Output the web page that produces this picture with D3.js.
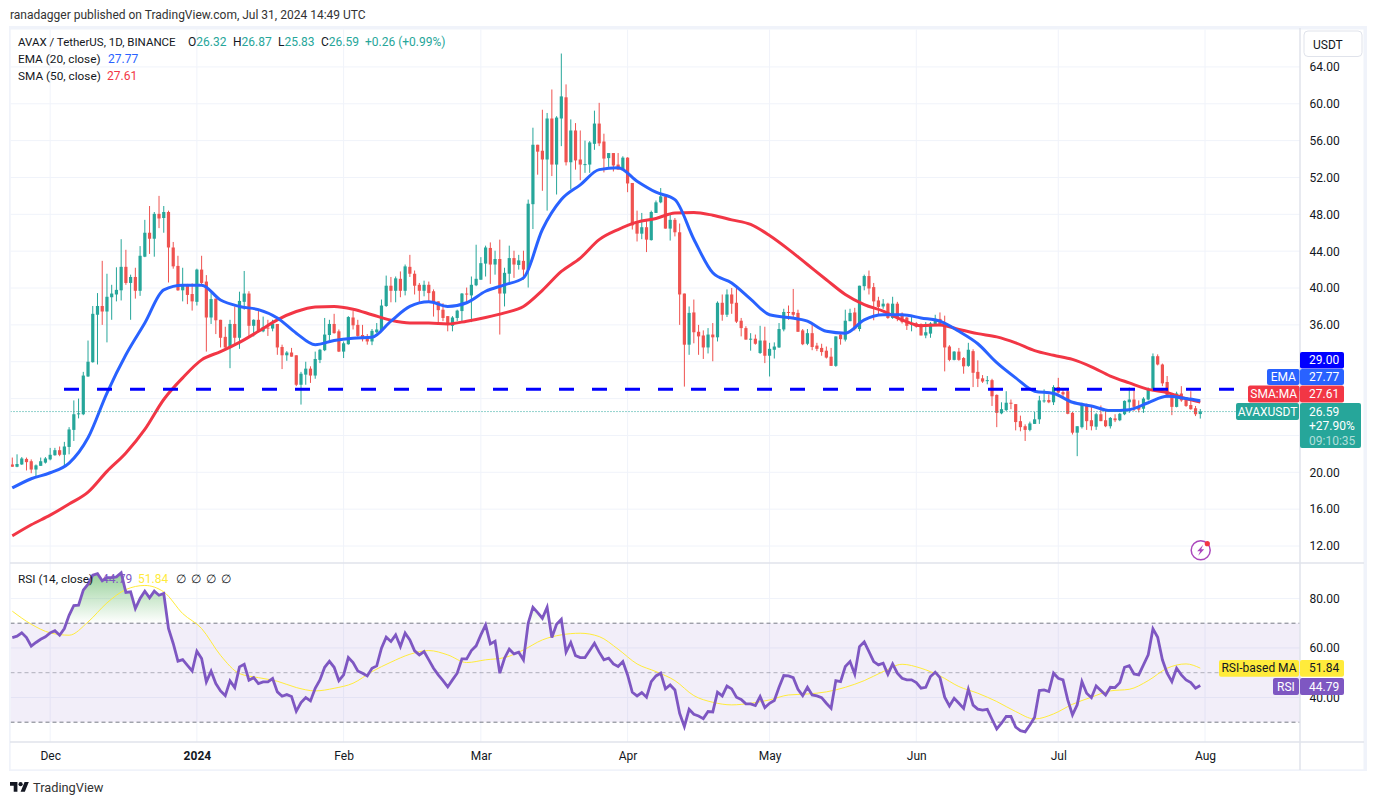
<!DOCTYPE html>
<html>
<head>
<meta charset="utf-8">
<script src="https://cdn.jsdelivr.net/npm/d3@7"></script>
<style>
  html, body { margin: 0; padding: 0; background: #fff; }
  text { font-family: Roboto, "Noto Sans", sans-serif; }
</style>
</head>
<body>
<svg id="chart" width="1376" height="805"></svg>
<script>
// one candle a day, from 2023-11-23 to 2024-07-31
const firstDay = Date.UTC(2023, 10, 23);

const opens = [
  20.85,20.6,20.85,21.45,21.2,20.3,20.7,21.05,21.4,21.85,
  22.4,21.9,22.75,24.6,26.3,26.3,30.4,31.95,37.1,38.05,
  37.45,39,39.3,39.75,42.3,40.55,41.2,39.7,43.4,46,
  45.35,48.05,47.6,48.25,44.4,42.4,39.75,40.3,39.35,38.5,
  42,40.7,36.8,38.85,36.55,34.7,33.55,36.1,34.6,38.5,
  39.4,35.9,36.55,35.3,35.7,35.6,36.1,33.6,32.7,33,
  32.7,29.5,30.6,31.25,30.5,32.2,33.25,34.9,36.1,35.3,
  33.1,33.9,36.8,36,34.9,34.65,34.2,35.2,35.35,38.05,
  40.25,39.7,41,39.7,42.3,41.55,40.35,39.7,40.35,39.65,
  38.55,37.65,36.95,35.9,36.75,37.5,39.4,39.2,40.3,40.9,
  42.65,44.35,42.55,43.15,39.4,41.55,43.25,42.5,42.95,42,
  49.1,55.55,54.9,53.95,58.4,53.4,58.4,60.7,53.65,57.1,
  53.95,53.45,53.4,55.65,57.85,55.9,54.1,54.65,53.4,52.85,
  54.15,51.4,47.25,45.9,46.6,45.2,48.15,49.3,49.95,46.45,
  47.4,46.05,39.4,33.85,37.35,35.25,34.85,33.55,34.95,34.65,
  38.4,37.1,39.3,38.4,36.45,35.65,34.5,34.5,32.95,34.3,
  32.65,33.3,33.55,35.5,37.4,37.4,37.3,35.4,33.95,35.1,
  33.75,33.5,33.2,32.55,31.55,34.95,34.4,36.4,37.35,35.55,
  40.2,41.3,40.1,38.65,38,38.3,36.75,38.3,37.2,36.8,
  36.1,36.15,36.1,34.85,35.05,36.1,36.65,36.15,33.65,32.2,
  33.1,32.4,31.55,33.15,30.9,30.2,29.95,30,28.4,26.4,
  26.75,27.55,27.4,25.55,25,24.6,25.25,25.75,27.75,27.85,
  27.6,29.25,28.7,28.8,26.45,24.3,24.9,27.35,25.65,24.95,
  26.3,25.65,25,25.85,25.65,26.3,27.6,27.9,27.2,26.9,
  27.9,28.9,32.6,31.7,29.8,28.4,27.1,28.55,28,27.3,26.95,26.32
];
const closes = [
  20.6,20.9,21.5,21.1,20.3,20.75,21.2,21.5,21.9,22.4,
  21.9,22.8,24.65,26.3,26.4,30.5,32,37.2,38.05,37.45,
  39.05,39.4,39.8,42.3,40.55,41.2,39.7,43.5,46,45.35,
  48.05,47.55,48.25,44.4,42.35,39.75,40.35,39.25,38.55,42,
  40.55,36.8,38.8,36.5,34.6,33.55,36.1,34.6,38.6,39.4,
  35.9,36.55,35.3,35.75,35.6,36.1,33.55,32.7,33,32.55,
  29.5,30.7,31.25,30.5,32.3,33.3,34.95,36.1,35.1,33.1,
  34,36.85,35.95,34.8,34.45,34.2,35.35,35.5,38.1,40.25,
  39.7,41.05,39.7,42.35,41.55,40.25,39.7,40.35,39.45,38.4,
  37.6,36.75,36,36.8,37.55,39.4,39.3,40.35,41,42.7,
  44.4,42.55,43.15,39.4,41.65,43.25,42.55,43,42,49.15,
  55.55,54.8,53.95,58.4,53.4,58.5,60.8,53.65,57.1,53.85,
  53.4,53.45,55.8,57.85,55.7,54.05,54.65,53.3,52.85,54.15,
  51.35,46.8,45.9,46.6,45.25,48.25,49.3,49.95,46.45,47.4,
  46.05,39.3,33.85,37.3,35.2,34.75,33.55,34.95,34.65,38.4,
  37.1,39.3,38.3,36.35,35.65,34.4,34.5,33.95,34.3,32.65,
  33.4,33.65,35.55,37.4,37.3,37.1,35.25,33.9,35.1,33.6,
  33.4,33.05,32.45,31.55,34.75,34.45,36.45,37.3,35.55,40.25,
  41.3,39.95,38.55,37.95,38.3,36.75,38.3,36.8,36.3,35.9,
  36.15,35.8,34.85,35.2,36.15,36.65,35.9,33.55,32.2,33.1,
  32.2,31.5,33.3,30.8,30.15,29.85,30,28.25,26.45,26.85,
  27.55,27.45,25.45,24.9,24.6,25.3,25.75,27.8,27.8,27.6,
  29.25,28.65,28.45,26.35,24.3,25,27.3,25.55,25,26.3,
  25.55,25,25.9,25.65,26.35,27.75,27.9,27.1,26.8,28,
  29.05,32.6,31.7,29.65,28.15,27.1,28.55,27.8,27.2,26.85,26.3,26.59
];
const highs = [
  21.6,21.95,21.65,21.6,21.4,20.85,21.6,21.65,22.65,22.65,
  22.8,23.3,24.9,27.8,28,30.9,34.3,38.05,39.45,42.95,
  41.55,40.35,42.25,45.3,44.15,41.45,42.2,44.55,47.4,48.9,
  48.25,50,48.9,48.4,45,43.5,42.2,40.45,40.5,42.1,
  43.5,41.4,39.45,38.85,36.55,35.8,36.55,38,39.6,41.85,
  39.65,36.6,37.55,36.9,36.55,36.55,36.1,33.85,33.15,33.5,
  32.7,30.9,32,31.5,33.1,33.4,36.75,36.55,37.2,35.5,
  34.2,36.95,37.5,36.55,36,35,35.55,36.2,38.75,41.35,
  41.2,41.25,41.8,42.55,43.6,41.9,40.55,40.8,40.7,39.85,
  38.55,38.35,36.95,36.95,37.65,39.45,40.05,41.25,44.7,43.35,
  44.6,44.95,44.05,45.25,42.2,44.6,44.05,43.6,44.05,49.6,
  57.4,55.55,59.35,59,61.55,58.65,65.45,62.1,58.3,57.9,
  57.1,56,55.95,59.25,60.1,56.75,54.65,54.65,54.65,54.3,
  54.2,51.4,48.4,48.15,47.4,48.4,49.5,50.85,50.05,48.05,
  47.6,47,39.4,38,38.75,36,35.4,35.65,36.2,38.55,
  39.3,39.85,40,40,36.75,35.85,35.1,34.95,35.9,35.8,
  34.05,34.1,36.2,37.75,38.1,39.9,37.65,35.55,35.55,36.2,
  34.05,33.95,33.65,33.5,34.75,35.05,37.65,37.75,37.85,40.25,
  41.45,41.9,40.55,39.05,38.8,38.4,39.05,38.5,37.35,36.85,
  36.85,36.3,36.15,36.3,36.3,37.1,37.35,37,33.8,33.15,
  33.5,32.5,34.05,33.35,32.15,30.55,30.45,30.15,28.45,27.6,
  28.8,27.9,27.4,26.15,25.2,25.5,26.55,28.3,29,28.45,
  29.45,30.25,29,29,26.55,25,27.55,27.45,27.1,26.45,
  27.25,26.65,26,26.3,26.45,27.8,29.2,29,27.8,28.15,
  29.2,32.9,32.8,31.8,30.45,28.4,28.75,29.35,28.15,28.8,27.2,26.87
];
const lows = [
  20.6,20.55,20.8,20.2,19.9,19.6,20.7,20.95,21.3,21.8,
  21.75,20.7,21.95,23.4,25.85,26.2,30.35,31.9,31.7,36,
  34.1,36.55,38.55,38.65,40.35,36.55,38.85,39.15,43.35,43.7,
  43.4,46.5,46,40.6,42.1,39.7,38.55,38.25,37.55,38.1,
  40.35,33.1,36.1,35,33.55,33.3,31.3,33.8,33.4,37.65,
  34.75,34.75,35.2,35.2,34.8,35.3,32.75,31.2,32.1,32.55,
  29.35,27.35,29.5,29.7,30.15,31.85,33.15,34.3,35.05,33.05,
  32.4,33.85,35.5,34.7,34.2,33.85,33.8,35.1,35.3,37.95,
  38.45,38.45,39,39.2,41.2,39.3,38.4,39.1,38.55,36.9,
  36.2,36.4,35.3,35.3,36.4,36.4,38.35,36.3,40.2,40.9,
  41.25,40.45,41.45,34.95,38,40.55,41.1,42,40.9,40.05,
  46.4,52.3,50.55,48.4,52.15,50.15,55.4,53.3,50.7,52.85,
  51.7,52.5,52.5,55,55.4,52.55,53.15,52.65,52.85,52.85,
  50.4,46.35,45.05,45.3,43.9,45.15,48.15,49.2,46.45,45.15,
  45.6,36,29.3,32.75,34,32.75,32.3,32.9,32.05,34.2,
  36.45,36.85,37.2,36.2,34.75,34.4,33.2,33.85,32.85,31.85,
  30.4,32.35,33.5,35.3,36.55,36.65,35.25,33.8,33.8,33.25,
  33.15,32.65,32.35,31.55,31.45,33.85,34.2,36.4,35.4,35.3,
  39.75,39.3,36.5,37,37.75,36.65,36.65,36.4,36.15,35.45,
  35.3,35.7,34.85,34.55,34.6,35.9,35.85,30.95,32.05,32.15,
  32.1,30.7,31.45,29.25,29.25,29.7,29.55,27.2,24.9,26.3,
  26.65,26.85,24.55,24.45,23.4,24.45,25.25,25.25,27.55,27.5,
  27.3,28.55,28,26.3,24.1,21.75,24.75,24.6,24.55,24.6,
  25.55,24.9,24.75,25.45,25.55,26.2,26.45,26.65,26.5,26.45,
  27.8,28.8,31.6,29.35,28.1,26.2,27.05,27.65,27.1,26.8,26.1,25.83
];

// read every 4th day, plus the last one
const ema20 = [
  18.3,19.3,19.95,21,23.75,28.6,32.75,36.2,39.8,40.3,40.3,38.7,38,37.65,36.75,35.1,
  33.85,34.3,34.55,34.65,36.4,38,38.5,38,38.4,39.65,40.35,41.1,46.35,49.6,51.2,52.85,
  53.05,51.6,50.4,49.6,45.3,41.65,40.55,38.8,37.1,36.8,36.4,35.3,35.1,36.55,37.1,37.1,
  36.75,36.4,35.3,33.95,31.9,30.25,28.8,28.55,27.6,27.2,26.7,26.8,27.55,28.25,28,27.77
];
const sma50 = [
  13.1,14.3,15.35,16.55,17.85,20.1,22.1,24.65,27.9,30.25,32.2,33.1,34.1,35.3,36.55,37.45,
  37.95,38,37.7,37.1,36.5,36.2,36.2,36.1,36.4,36.8,37.3,38,39.75,41.8,43.25,45.25,
  46.35,47.15,47.55,48.15,48.2,47.9,47.4,46.9,45.7,44.2,42.55,40.9,39.3,38.2,37.5,36.55,
  35.9,36,35.5,35.05,34.7,34.05,33.2,32.7,32.25,31.45,30.45,29.7,29,28.65,28,27.61
];
const rsiMa = [
  74.85,69.6,66.1,65.15,70.5,78.2,83.6,85.25,82.65,73.9,67.85,57,49.65,48,46.55,44,
  42.65,43.7,45.75,50.45,54.25,57.45,58.95,57.2,54.1,55.2,56.1,59.2,63.25,65.3,65.95,64.6,
  59.5,53.55,50.45,46.8,40.75,38.05,37,37.65,39,41,41.4,42.25,44.1,46.8,50.45,53.4,
  51.8,48.7,44.4,41.7,38.35,34.3,31.3,33.35,37.25,40.1,42.65,43.3,46.8,51.8,53.55,51.84
];
const rsi14 = [
  64.2,64.75,66.1,64.2,60.7,62.2,63.5,64.5,66.1,67,
  65.15,67.85,73.2,77.15,77.3,83.35,85.75,89.4,90,87.1,
  88.45,88.45,88.7,90.35,82.4,82.65,75.9,80,82.95,80.25,
  82.95,81.3,82,67.85,61.8,54.65,55.3,53,50.7,58.7,
  55.7,46.3,50.6,45.6,42.65,40.75,46.7,44,52.35,53.4,
  47,48,45.6,46.3,46.3,47.65,42.25,40.5,41.15,40.4,
  34.4,37.9,39.95,38.6,43.7,47.1,52.2,54.6,52.2,46.8,
  49.1,56.1,54.1,50.7,49.8,48.7,51.8,52.75,59.9,64.35,
  62.6,65.3,60.6,66,63.25,58.8,57.2,58.55,55.2,51.8,
  49.1,46.8,44.25,47.1,49.8,55.6,55.6,58.95,60.85,65.3,
  69.3,61.65,62.7,49.8,55.85,59.5,57.6,58.3,55.2,70,
  76.45,74.3,72,76.45,64.2,69.6,71.6,58.3,62.2,56.9,
  56.1,56.1,58.95,61.9,58.3,55.2,55.85,53.55,52.5,54.5,
  49.1,42.1,40.6,42,40.1,46.4,48.7,49.8,43.45,45.05,
  43,33.6,28.2,35.2,33.2,32.5,31.45,34.3,34.15,42.1,
  40.6,44.65,43.45,40.1,39.2,37.4,37.4,36.7,40.35,35.9,
  37.65,38.75,44.1,48.85,48.7,48,43.3,40.75,44.1,41,
  40.6,39.9,37.65,35.6,46.8,46.4,52.5,54.5,49.4,60.55,
  62.45,58.55,54.5,53.15,53.85,49.4,53.55,49.8,47.75,47.1,
  47.1,46,43.75,44.1,48.45,50.2,48,40.1,36.6,39.7,
  37.65,35.6,43.3,36.9,35.3,34.9,35.2,31.2,27.3,29.6,
  32.3,32.3,28,26.6,26.1,28.9,32,42.8,43.05,42.4,
  49.8,47.75,47.1,39,32.95,37,46.4,41.7,39.9,44.65,
  42.8,41,44.1,44,46,52.2,52.85,49.5,49.1,53.15,
  57.2,67.7,64.35,55.2,49.8,46.4,51.8,49.1,47.1,46,43.75,44.79
];

const priceTicks = [12, 16, 20, 24, 28, 32, 36, 40, 44, 48, 52, 56, 60, 64];
// 24, 28 and 32 sit behind the price tags, so only their grid lines show
const priceLabels = [12, 16, 20, 36, 40, 44, 48, 52, 56, 60, 64];
const rsiTicks = [40, 60, 80];
const monthTicks = [
  [Date.UTC(2023, 11, 1), 'Dec'], [Date.UTC(2024, 0, 1), '2024'], [Date.UTC(2024, 1, 1), 'Feb'],
  [Date.UTC(2024, 2, 1), 'Mar'], [Date.UTC(2024, 3, 1), 'Apr'], [Date.UTC(2024, 4, 1), 'May'],
  [Date.UTC(2024, 5, 1), 'Jun'], [Date.UTC(2024, 6, 1), 'Jul'], [Date.UTC(2024, 7, 1), 'Aug']
];
const supportLevel = 29;
const lastClose = 26.59;

const DAY = 86400000;
const UP = '#26a69a', DOWN = '#ef5350', BLUE = '#2962ff', RED = '#f23645';
const PURPLE = '#7e57c2', YELLOW = '#ffeb3b', INK = '#131722', GRID = '#f0f3fa', EDGE = '#e0e3eb';

const svg = d3.select('#chart');
const plot = {left: 10.5, right: 1300, top: 29.5, mid: 563, bottom: 742};

const x = d3.scaleUtc()
  .domain([firstDay, Date.UTC(2024, 7, 1)])
  .range([12.3, 1205]);
const y = d3.scaleLinear().domain([12, 64]).range([546, 66.9]);
const yRsi = d3.scaleLinear().domain([30, 70]).range([722.2, 623.2]);

const dayOf = i => firstDay + i * DAY;
// the moving averages were read every 4th day and on the last day
const sampledDay = i => dayOf(Math.min(i * 4, 251));

const defs = svg.append('defs');
defs.append('clipPath').attr('id', 'clip-price').append('rect')
  .attr('x', plot.left).attr('y', plot.top)
  .attr('width', plot.right - plot.left).attr('height', plot.mid - plot.top);
defs.append('clipPath').attr('id', 'clip-rsi').append('rect')
  .attr('x', plot.left).attr('y', plot.mid)
  .attr('width', plot.right - plot.left).attr('height', plot.bottom - plot.mid);
defs.append('clipPath').attr('id', 'clip-over').append('rect')
  .attr('x', plot.left).attr('y', plot.mid)
  .attr('width', plot.right - plot.left).attr('height', yRsi(70) - plot.mid);
const grad = defs.append('linearGradient').attr('id', 'over-fill')
  .attr('gradientUnits', 'userSpaceOnUse')
  .attr('x1', 0).attr('x2', 0).attr('y1', yRsi(91)).attr('y2', yRsi(70));
grad.append('stop').attr('offset', 0).attr('stop-color', '#4caf50').attr('stop-opacity', 0.6);
grad.append('stop').attr('offset', 1).attr('stop-color', '#4caf50').attr('stop-opacity', 0);

// grid
const grid = svg.append('g').attr('stroke', GRID).attr('stroke-width', 1);
grid.selectAll('.v').data(monthTicks).enter().append('line')
  .attr('x1', d => x(d[0])).attr('x2', d => x(d[0]))
  .attr('y1', plot.top).attr('y2', plot.bottom);
grid.selectAll('.h').data(priceTicks).enter().append('line')
  .attr('x1', plot.left).attr('x2', plot.right)
  .attr('y1', d => y(d)).attr('y2', d => y(d));
grid.selectAll('.r').data(rsiTicks).enter().append('line')
  .attr('x1', plot.left).attr('x2', plot.right)
  .attr('y1', d => yRsi(d)).attr('y2', d => yRsi(d));

// rsi pane background and bands
svg.append('rect')
  .attr('x', plot.left).attr('width', plot.right - plot.left)
  .attr('y', yRsi(70)).attr('height', yRsi(30) - yRsi(70))
  .attr('fill', PURPLE).attr('fill-opacity', 0.1);
[[70, '#787b86', 1], [50, '#787b86', 0.55], [30, '#787b86', 1]].forEach(b => {
  svg.append('line')
    .attr('x1', plot.left).attr('x2', plot.right)
    .attr('y1', yRsi(b[0])).attr('y2', yRsi(b[0]))
    .attr('stroke', b[1]).attr('stroke-opacity', b[2])
    .attr('stroke-dasharray', '4 3');
});

// candles
const candles = svg.append('g').attr('clip-path', 'url(#clip-price)')
  .selectAll('g').data(closes).enter().append('g')
  .attr('fill', (d, i) => d >= opens[i] ? UP : DOWN)
  .attr('stroke', (d, i) => d >= opens[i] ? UP : DOWN);
candles.append('line')
  .attr('x1', (d, i) => x(dayOf(i))).attr('x2', (d, i) => x(dayOf(i)))
  .attr('y1', (d, i) => y(highs[i])).attr('y2', (d, i) => y(lows[i]))
  .attr('stroke-width', 1);
candles.append('rect')
  .attr('x', (d, i) => x(dayOf(i)) - 1.6)
  .attr('width', 3.2)
  .attr('y', (d, i) => y(Math.max(d, opens[i])))
  .attr('height', (d, i) => Math.max(1, Math.abs(y(d) - y(opens[i]))))
  .attr('stroke', 'none');

// moving averages
const maLine = scale => d3.line()
  .x((d, i) => x(sampledDay(i)))
  .y(d => scale(d))
  .curve(d3.curveMonotoneX);
const priceLines = svg.append('g').attr('clip-path', 'url(#clip-price)').attr('fill', 'none');
priceLines.append('path').datum(sma50).attr('d', maLine(y))
  .attr('stroke', RED).attr('stroke-width', 3);
priceLines.append('path').datum(ema20).attr('d', maLine(y))
  .attr('stroke', BLUE).attr('stroke-width', 3);

// horizontal level and last price
svg.append('line')
  .attr('x1', 64).attr('x2', plot.right)
  .attr('y1', y(supportLevel)).attr('y2', y(supportLevel))
  .attr('stroke', '#0000ff').attr('stroke-width', 3)
  .attr('stroke-dasharray', '15 18');
svg.append('line')
  .attr('x1', plot.left).attr('x2', plot.right)
  .attr('y1', y(lastClose)).attr('y2', y(lastClose))
  .attr('stroke', UP).attr('stroke-dasharray', '1 2');

// rsi
const rsiPane = svg.append('g').attr('clip-path', 'url(#clip-rsi)');
const overArea = d3.area()
  .x((d, i) => x(dayOf(i)))
  .y0(yRsi(70))
  .y1(d => yRsi(d));
rsiPane.append('path').datum(rsi14).attr('d', overArea)
  .attr('clip-path', 'url(#clip-over)')
  .attr('fill', 'url(#over-fill)');
rsiPane.append('path').datum(rsiMa).attr('d', maLine(yRsi))
  .attr('fill', 'none').attr('stroke', YELLOW).attr('stroke-width', 1);
rsiPane.append('path').datum(rsi14)
  .attr('d', d3.line().x((d, i) => x(dayOf(i))).y(d => yRsi(d)))
  .attr('fill', 'none').attr('stroke', PURPLE).attr('stroke-width', 2.8);

// axes
const styleAxis = g => {
  g.select('.domain').remove();
  g.selectAll('text').attr('fill', INK).style('font-size', '12px')
    .style('font-family', 'Roboto, sans-serif');
};
svg.append('g').attr('transform', `translate(${plot.right},0)`)
  .call(d3.axisRight(y).tickValues(priceLabels).tickFormat(d3.format('.2f')).tickSize(0).tickPadding(9.5))
  .call(styleAxis);
svg.append('g').attr('transform', `translate(${plot.right},0)`)
  .call(d3.axisRight(yRsi).tickValues(rsiTicks).tickFormat(d3.format('.2f')).tickSize(0).tickPadding(9.5))
  .call(styleAxis);
const monthLabels = new Map(monthTicks);
svg.append('g').attr('transform', `translate(0,${plot.bottom})`)
  .call(d3.axisBottom(x).tickValues(monthTicks.map(d => new Date(d[0])))
    .tickFormat(d => monthLabels.get(+d)).tickSize(0).tickPadding(9))
  .call(styleAxis)
  .selectAll('text')
  .style('font-weight', d => monthLabels.get(+d) === '2024' ? 700 : 400);

// frame and pane separators
const frame = svg.append('g').attr('fill', 'none').attr('stroke', EDGE);
frame.append('rect').attr('x', 9).attr('y', 26).attr('width', 1358).attr('height', 3.5)
  .attr('fill', '#f0f3fa').attr('stroke', 'none');
frame.append('rect').attr('x', 1363.5).attr('y', 26).attr('width', 3.5).attr('height', 745)
  .attr('fill', '#f0f3fa').attr('stroke', 'none');
frame.append('rect').attr('x', 9).attr('y', 26).attr('width', 1.7).attr('height', 745)
  .attr('fill', '#f0f3fa').attr('stroke', 'none');
frame.append('rect').attr('x', 9).attr('y', 769.3).attr('width', 1358).attr('height', 1.7)
  .attr('fill', '#f0f3fa').attr('stroke', 'none');
frame.append('line').attr('x1', 10).attr('x2', 1364).attr('y1', plot.mid).attr('y2', plot.mid).attr('stroke-width', 1.5);
frame.append('line').attr('x1', 10).attr('x2', 1364).attr('y1', plot.bottom).attr('y2', plot.bottom).attr('stroke-width', 1.5);
frame.append('line').attr('x1', plot.right).attr('x2', plot.right).attr('y1', 28).attr('y2', 770).attr('stroke-width', 1.5);

// small text helper
function label(parent, px, py, str, fill, size, weight, anchor) {
  return parent.append('text').attr('x', px).attr('y', py).text(str)
    .attr('fill', fill).style('font-size', (size || 12) + 'px')
    .style('font-weight', weight || 400)
    .attr('text-anchor', anchor || 'start')
    .attr('dominant-baseline', 'central');
}

label(svg, 10, 15, 'ranadagger published on TradingView.com, Jul 31, 2024 14:49 UTC', '#333', 12);

// legends
const legend = svg.append('g');
label(legend, 18, 42, 'AVAX / TetherUS, 1D, BINANCE', INK, 11.5);
[[188, 'O', '26.32'], [233, 'H', '26.87'], [278, 'L', '25.83'], [321, 'C', '26.59']].forEach(o => {
  const t = label(legend, o[0], 42, o[1], INK);
  t.append('tspan').attr('fill', UP).text(o[2]);
});
label(legend, 365, 42, '+0.26 (+0.99%)', UP);
label(legend, 18, 59, 'EMA (20, close)', INK, 11.8);
label(legend, 108, 59, '27.77', BLUE);
label(legend, 18, 76, 'SMA (50, close)', INK, 11.8);
label(legend, 107, 76, '27.61', RED);
label(legend, 18, 579, 'RSI (14, close)', INK, 11.8);
label(legend, 102, 579, '44.79', PURPLE);
label(legend, 138, 579, '51.84', YELLOW);
['\u2205', '\u2205', '\u2205', '\u2205'].forEach((s, i) => label(legend, 176 + i * 15, 579, s, INK));

// USDT unit box
svg.append('rect').attr('x', 1304).attr('y', 31).attr('width', 58).attr('height', 25.5).attr('rx', 4)
  .attr('fill', '#fff').attr('stroke', EDGE);
label(svg, 1313, 44.5, 'USDT', INK, 12);

// axis tags
function tag(px, py, w, h, fill, str, color, anchor) {
  const g = svg.append('g');
  g.append('rect').attr('x', px).attr('y', py).attr('width', w).attr('height', h).attr('rx', 2).attr('fill', fill);
  if (str) label(g, anchor === 'middle' ? px + w / 2 : px + 9, py + h / 2, str, color, 12, 400, anchor);
}
tag(1300, 352, 44, 16.6, '#0000ff', '29.00', '#fff');
tag(1267, 369, 32.5, 16, BLUE, 'EMA', '#fff', 'middle');
tag(1300, 369, 44, 16, BLUE, '27.77', '#fff');
tag(1248, 385.5, 51.5, 17, RED, 'SMA:MA', '#fff', 'middle');
tag(1300, 385.5, 44, 17, RED, '27.61', '#fff');
tag(1236, 403, 63, 17, UP, 'AVAXUSDT', '#fff', 'middle');
tag(1300, 403, 61, 45, UP);
label(svg, 1309, 411.5, '26.59', '#fff');
label(svg, 1309, 426, '+27.90%', '#fff');
label(svg, 1309, 440.5, '09:10:35', '#fff').attr('fill-opacity', 0.65);
tag(1219, 660, 80, 16.7, YELLOW, 'RSI-based MA', INK, 'middle');
tag(1300, 660, 44, 16.7, YELLOW, '51.84', INK);
tag(1273, 678, 26, 17, PURPLE, 'RSI', '#fff', 'middle');
tag(1300, 678, 44, 17, PURPLE, '44.79', '#fff');

// lightning badge
const badge = svg.append('g').attr('transform', 'translate(1200.7,550.3)');
badge.append('circle').attr('r', 9.5).attr('fill', '#fff').attr('stroke', '#ab47bc').attr('stroke-width', 1.5);
badge.append('path').attr('d', 'M2.5,-5.5 L-3.5,1 L-0.5,1 L-2.5,5.5 L3.5,-1 L0.5,-1 Z').attr('fill', '#ab47bc');
badge.append('circle').attr('cx', 6.6).attr('cy', -6.6).attr('r', 2.6).attr('fill', RED);

// footer logo
const logo = svg.append('g').attr('transform', 'translate(10,780) scale(0.53)').attr('fill', INK);
logo.append('path').attr('d', 'M14 22H7V11H0V4h14v18zM28 22h-8l7.5-18h8L28 22z');
logo.append('circle').attr('cx', 20).attr('cy', 8).attr('r', 4);
label(svg, 33, 787, 'TradingView', '#333', 12.8);
</script>
</body>
</html>
